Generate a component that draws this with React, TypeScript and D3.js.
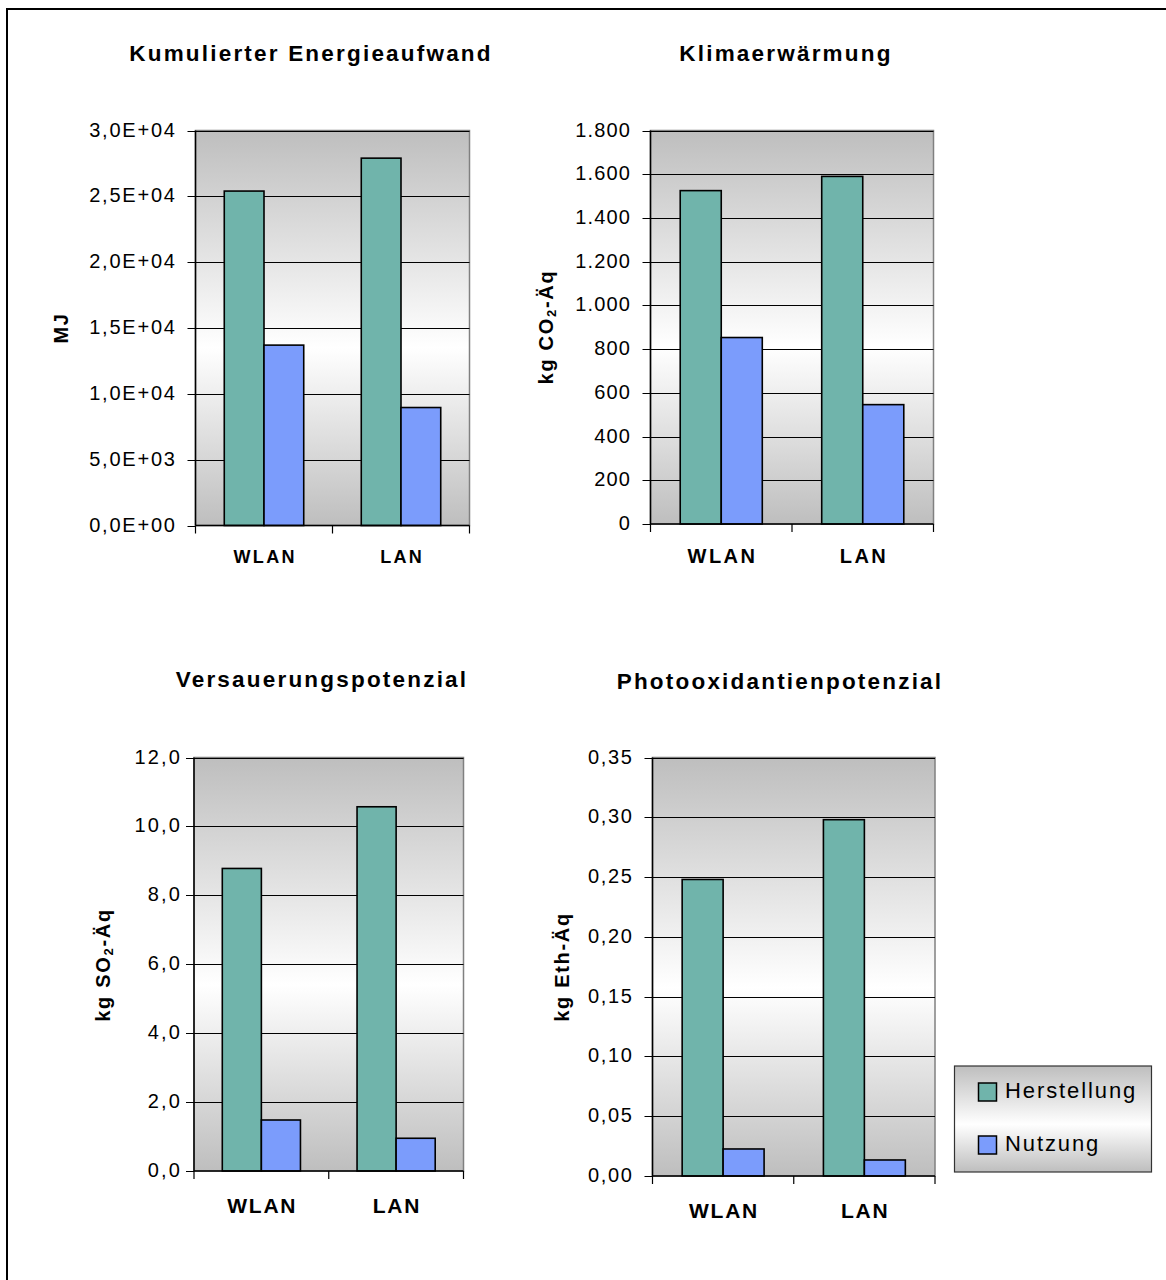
import React from "react";
import * as d3 from "d3";

// Kategorien und Reihen
const categories = ["WLAN", "LAN"];
const seriesNames = ["Herstellung", "Nutzung"];
const seriesColors = ["#70b4ab", "#7b9cfc"];

// Kumulierter Energieaufwand (MJ)
const energyHerstellung = [25400, 27900];
const energyNutzung = [13700, 8960];
const energyTicks = [0, 5000, 10000, 15000, 20000, 25000, 30000];

// Klimaerwärmung (kg CO2-Äq)
const climateHerstellung = [1525, 1590];
const climateNutzung = [853, 546];
const climateTicks = [0, 200, 400, 600, 800, 1000, 1200, 1400, 1600, 1800];

// Versauerungspotenzial (kg SO2-Äq)
const acidHerstellung = [8.78, 10.57];
const acidNutzung = [1.48, 0.95];
const acidTicks = [0, 2, 4, 6, 8, 10, 12];

// Photooxidantienpotenzial (kg Eth-Äq)
const photoHerstellung = [0.248, 0.298];
const photoNutzung = [0.0226, 0.0134];
const photoTicks = [0, 0.05, 0.1, 0.15, 0.2, 0.25, 0.3, 0.35];

const FONT = "'Liberation Sans', Arial, Helvetica, sans-serif";

const fmtSci = (v: number) => {
  const [m, e] = v.toExponential(1).split("e");
  const sign = e.startsWith("-") ? "-" : "+";
  const ex = Math.abs(parseInt(e, 10)).toString().padStart(2, "0");
  return `${m.replace(".", ",")}E${sign}${ex}`;
};
const fmtThousands = (v: number) =>
  d3.format(",.0f")(v).replace(/,/g, ".");
const fmtComma = (digits: number) => (v: number) =>
  v.toFixed(digits).replace(".", ",");

type YLabel = { main: string; sub?: string; rest?: string };

type ChartSpec = {
  title: string;
  titleX: number;
  titleY: number;
  plot: { left: number; right: number; top: number; bottom: number };
  values: number[][];
  ticks: number[];
  fmt: (v: number) => string;
  tickFont: number;
  tickLs: number;
  tickEnd: number;
  yLabel: YLabel;
  yLabelX: number;
  yLabelY: number;
  catFont: number;
  catLs: number;
  catY: number;
};

const charts: ChartSpec[] = [
  {
    title: "Kumulierter Energieaufwand",
    titleX: 311,
    titleY: 61,
    plot: { left: 195.5, right: 469.5, top: 130.5, bottom: 525.5 },
    values: [energyHerstellung, energyNutzung],
    ticks: energyTicks,
    fmt: fmtSci,
    tickFont: 20,
    tickLs: 1.8,
    tickEnd: 175,
    yLabel: { main: "MJ" },
    yLabelX: 68,
    yLabelY: 328,
    catFont: 18,
    catLs: 2.3,
    catY: 562.5,
  },
  {
    title: "Klimaerwärmung",
    titleX: 786,
    titleY: 61,
    plot: { left: 650.5, right: 933.5, top: 130.5, bottom: 524 },
    values: [climateHerstellung, climateNutzung],
    ticks: climateTicks,
    fmt: fmtThousands,
    tickFont: 20,
    tickLs: 1.2,
    tickEnd: 630,
    yLabel: { main: "kg CO", sub: "2", rest: "-Äq" },
    yLabelX: 553,
    yLabelY: 327,
    catFont: 20,
    catLs: 2.5,
    catY: 562.5,
  },
  {
    title: "Versauerungspotenzial",
    titleX: 322,
    titleY: 687,
    plot: { left: 194, right: 463.5, top: 757.5, bottom: 1171 },
    values: [acidHerstellung, acidNutzung],
    ticks: acidTicks,
    fmt: fmtComma(1),
    tickFont: 20,
    tickLs: 2.2,
    tickEnd: 180,
    yLabel: { main: "kg SO", sub: "2", rest: "-Äq" },
    yLabelX: 109.5,
    yLabelY: 965,
    catFont: 21,
    catLs: 1.7,
    catY: 1212.5,
  },
  {
    title: "Photooxidantienpotenzial",
    titleX: 780,
    titleY: 689,
    plot: { left: 652.5, right: 935, top: 757.5, bottom: 1176 },
    values: [photoHerstellung, photoNutzung],
    ticks: photoTicks,
    fmt: fmtComma(2),
    tickFont: 20,
    tickLs: 1.7,
    tickEnd: 632,
    yLabel: { main: "kg Eth-Äq" },
    yLabelX: 569,
    yLabelY: 967,
    catFont: 21,
    catLs: 1.7,
    catY: 1218,
  },
];

function BarChart({ spec }: { spec: ChartSpec }) {
  const { plot } = spec;
  const y = d3
    .scaleLinear()
    .domain([0, spec.ticks[spec.ticks.length - 1]])
    .range([plot.bottom, plot.top]);
  const x0 = d3
    .scaleBand<string>()
    .domain(categories)
    .range([plot.left, plot.right])
    .padding(0);
  const bw = x0.bandwidth();
  const x1 = d3
    .scaleBand<string>()
    .domain(seriesNames)
    .range([bw * 0.21, bw * 0.79])
    .padding(0);
  const catTicks = [plot.left, ...categories.map((c) => (x0(c) as number) + bw)];

  return (
    <g>
      <text
        x={spec.titleX}
        y={spec.titleY}
        textAnchor="middle"
        fontFamily={FONT}
        fontWeight="bold"
        fontSize={22.5}
        letterSpacing={2.2}
        fill="#000"
      >
        {spec.title}
      </text>

      {/* Zeichenfläche */}
      <rect
        x={plot.left}
        y={plot.top}
        width={plot.right - plot.left}
        height={plot.bottom - plot.top}
        fill="url(#areaGrad)"
        stroke="#808080"
        strokeWidth={1.5}
      />

      {/* Gitterlinien */}
      {spec.ticks.slice(1).map((t) => (
        <line
          key={`g${t}`}
          x1={plot.left}
          x2={plot.right}
          y1={Math.round(y(t)) + 0.5}
          y2={Math.round(y(t)) + 0.5}
          stroke="#000"
          strokeWidth={1}
        />
      ))}

      {/* Balken */}
      {categories.map((c, ci) =>
        seriesNames.map((s, si) => {
          const v = spec.values[si][ci];
          const bx = (x0(c) as number) + (x1(s) as number);
          return (
            <rect
              key={`${c}-${s}`}
              x={bx}
              y={y(v)}
              width={x1.bandwidth()}
              height={plot.bottom - y(v)}
              fill={seriesColors[si]}
              stroke="#000"
              strokeWidth={1.6}
            />
          );
        })
      )}

      {/* Y-Achse */}
      <line
        x1={plot.left}
        x2={plot.left}
        y1={plot.top}
        y2={plot.bottom}
        stroke="#000"
        strokeWidth={1.5}
      />
      {spec.ticks.map((t) => (
        <g key={`t${t}`}>
          <line
            x1={plot.left - 8}
            x2={plot.left}
            y1={Math.round(y(t)) + 0.5}
            y2={Math.round(y(t)) + 0.5}
            stroke="#000"
            strokeWidth={1}
          />
          <text
            x={spec.tickEnd + spec.tickLs}
            y={y(t) - 1}
            textAnchor="end"
            dominantBaseline="central"
            fontFamily={FONT}
            fontSize={spec.tickFont}
            letterSpacing={spec.tickLs}
            fill="#000"
          >
            {spec.fmt(t)}
          </text>
        </g>
      ))}

      {/* X-Achse */}
      <line
        x1={plot.left}
        x2={plot.right}
        y1={plot.bottom}
        y2={plot.bottom}
        stroke="#000"
        strokeWidth={1.5}
      />
      {catTicks.map((tx, i) => (
        <line
          key={`c${i}`}
          x1={tx}
          x2={tx}
          y1={plot.bottom}
          y2={plot.bottom + 8}
          stroke="#000"
          strokeWidth={1.2}
        />
      ))}
      {categories.map((c) => (
        <text
          key={`l${c}`}
          x={(x0(c) as number) + bw / 2 + spec.catLs / 2}
          y={spec.catY}
          textAnchor="middle"
          fontFamily={FONT}
          fontWeight="bold"
          fontSize={spec.catFont}
          letterSpacing={spec.catLs}
          fill="#000"
        >
          {c}
        </text>
      ))}

      {/* Achsentitel */}
      <text
        transform={`translate(${spec.yLabelX},${spec.yLabelY}) rotate(-90)`}
        textAnchor="middle"
        fontFamily={FONT}
        fontWeight="bold"
        fontSize={20}
        letterSpacing={1.7}
        fill="#000"
      >
        {spec.yLabel.main}
        {spec.yLabel.sub && (
          <tspan fontSize={13} dy={3}>
            {spec.yLabel.sub}
          </tspan>
        )}
        {spec.yLabel.rest && <tspan dy={-3}>{spec.yLabel.rest}</tspan>}
      </text>
    </g>
  );
}

function Legend() {
  const box = { x: 954.5, y: 1066, w: 197, h: 106 };
  const rows = [1098, 1151];
  return (
    <g>
      <rect
        x={box.x}
        y={box.y}
        width={box.w}
        height={box.h}
        fill="url(#areaGrad)"
        stroke="#333"
        strokeWidth={1.2}
      />
      {seriesNames.map((s, i) => (
        <g key={s}>
          <rect
            x={978.5}
            y={rows[i] - 15}
            width={18}
            height={18}
            fill={seriesColors[i]}
            stroke="#000"
            strokeWidth={1.5}
          />
          <text
            x={1005}
            y={rows[i]}
            fontFamily={FONT}
            fontSize={22}
            letterSpacing={1.9}
            fill="#000"
          >
            {s}
          </text>
        </g>
      ))}
    </g>
  );
}

export default function App() {
  return (
    <svg
      width={1166}
      height={1280}
      style={{ position: "absolute", left: 0, top: 0, background: "#fff" }}
    >
      <defs>
        <linearGradient id="areaGrad" x1="0" y1="0" x2="0" y2="1">
          <stop offset="0%" stopColor="#bebebe" />
          <stop offset="55%" stopColor="#ffffff" />
          <stop offset="100%" stopColor="#bebebe" />
        </linearGradient>
      </defs>
      <rect x={0} y={0} width={1166} height={1280} fill="#fff" />
      {/* Rahmen */}
      <rect
        x={7}
        y={9}
        width={1220}
        height={1320}
        fill="none"
        stroke="#000"
        strokeWidth={2}
      />
      {charts.map((c) => (
        <BarChart key={c.title} spec={c} />
      ))}
      <Legend />
    </svg>
  );
}
